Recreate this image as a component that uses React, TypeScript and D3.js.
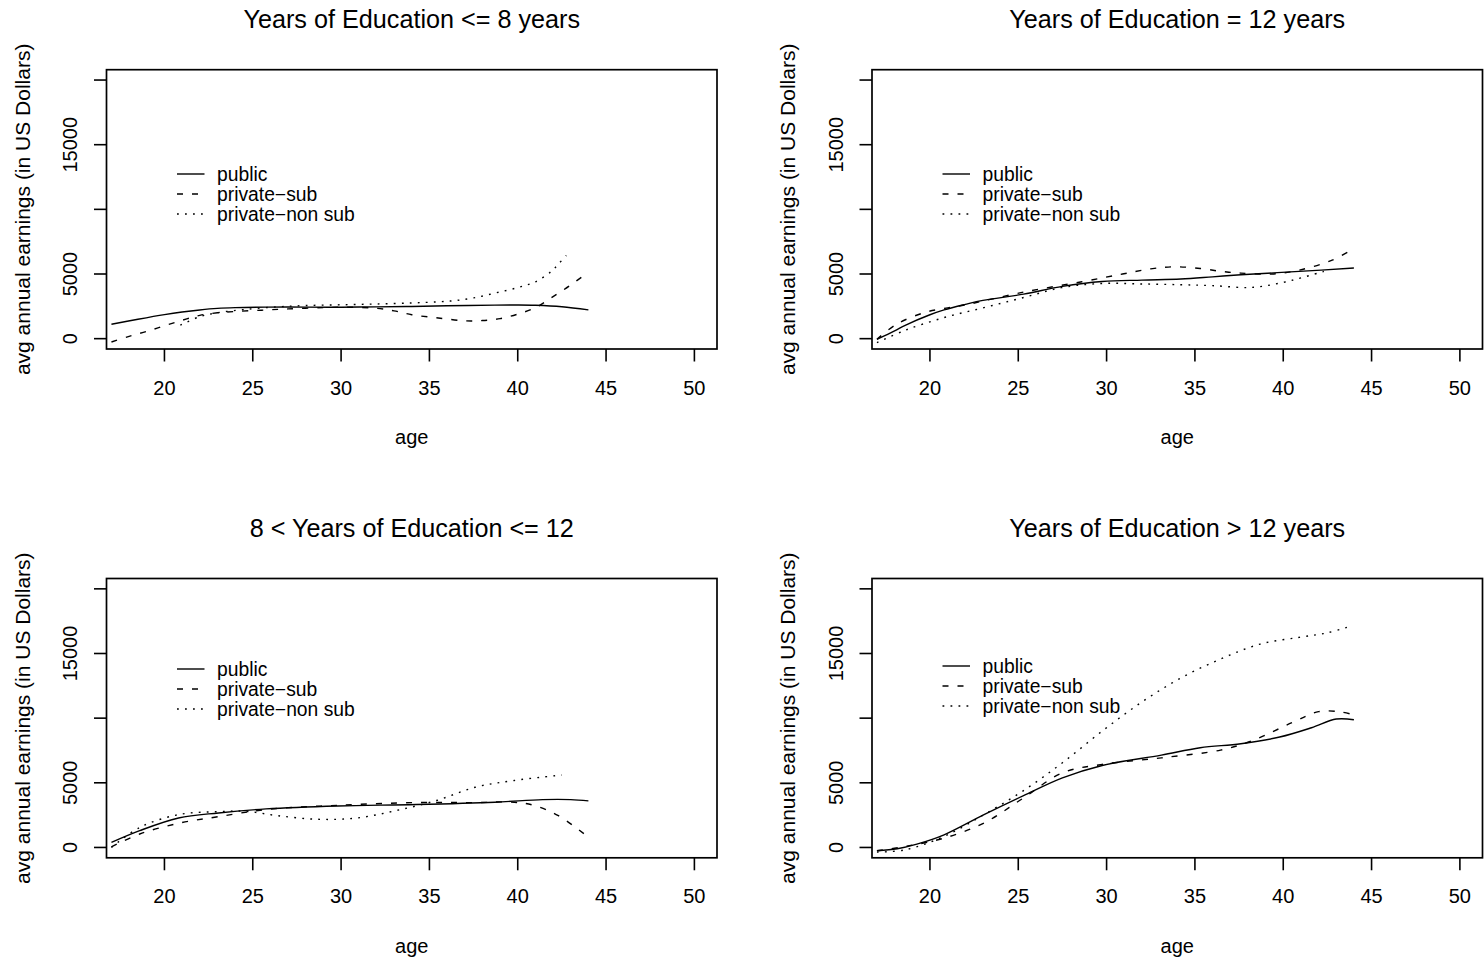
import React from "react";
import * as d3 from "d3";

type Pt = [number, number];

const panelTitles = [
  "Years of Education <= 8 years",
  "Years of Education = 12 years",
  "8 < Years of Education <= 12",
  "Years of Education > 12 years",
];
const seriesNames = ["public", "private\u2212sub", "private\u2212non sub"];
const xTicks = [20, 25, 30, 35, 40, 45, 50];
const yTicks = [0, 5000, 10000, 15000, 20000];
const yTickLabels = ["0", "5000", "", "15000", ""];
const xDomain: [number, number] = [16.72, 51.28];
const yDomain: [number, number] = [-800, 20800];

// Panel 1: <= 8 years
const p1Public: Pt[] = [[17,1110],[18.5,1500],[20,1860],[21,2060],[22,2220],[23,2340],[24,2400],[25.75,2440],[28,2440],[30,2430],[32,2460],[34,2490],[36,2540],[38.7,2590],[40,2600],[41,2580],[42.5,2470],[44,2230]];
const p1Sub: Pt[] = [[17,-260],[18,180],[19,560],[20,1000],[21,1420],[22,1800],[23,2000],[24,2100],[25.5,2200],[27,2300],[29,2400],[30.5,2430],[32,2350],[33,2150],[34,1850],[35.5,1600],[37,1380],[38,1400],[39,1550],[40,1900],[41,2400],[42,3250],[43,4150],[43.9,5050]];
const p1NonSub: Pt[] = [[20.9,1040],[22,1700],[23,2000],[24.5,2250],[26.4,2460],[28,2560],[30,2620],[32,2680],[34,2760],[35.5,2850],[36.5,2950],[37.5,3150],[38.7,3520],[40,3950],[41,4400],[41.9,5200],[42.3,5770],[42.75,6430]];

// Panel 2: = 12 years
const p2Public: Pt[] = [[17,-50],[18,600],[18.6,1035],[20,1850],[20.8,2226],[22,2650],[23,2960],[25.3,3440],[27.5,4040],[29.75,4420],[32,4530],[34.2,4610],[36,4780],[37.6,4940],[40.9,5200],[44,5460]];
const p2Sub: Pt[] = [[17,-50],[18.1,1110],[19.7,2020],[21,2380],[22,2610],[25.3,3600],[28.6,4400],[30.9,5000],[32.5,5400],[33.8,5560],[35.3,5430],[36.5,5200],[37.6,5070],[39.35,5000],[40.9,5300],[42.7,6030],[43.8,6800]];
const p2NonSub: Pt[] = [[17,-310],[18.6,650],[20.8,1630],[23.06,2400],[25.3,3180],[27.5,3960],[29.75,4270],[32,4230],[34.2,4170],[36,4100],[38.2,3960],[40,4350],[41,4700],[42.3,5200]];

// Panel 3: 8 < years <= 12
const p3Public: Pt[] = [[17,390],[18.6,1300],[20.8,2280],[23.06,2670],[25.75,2980],[29.8,3210],[34.25,3320],[38.7,3500],[41.4,3700],[43,3700],[44,3600]];
const p3Sub: Pt[] = [[17,50],[18.6,1040],[20.8,1870],[23.06,2380],[25.75,2930],[29.8,3260],[34.25,3470],[37.6,3470],[39.8,3500],[40.96,3240],[42.3,2460],[43.9,900]];
const p3NonSub: Pt[] = [[17,0],[18.6,1550],[20.8,2540],[23.06,2770],[24.6,2800],[26.4,2460],[28.66,2180],[30.9,2280],[33.1,2850],[35.4,3630],[37.6,4660],[39.8,5180],[42.5,5600]];

// Panel 4: > 12 years
const p4Public: Pt[] = [[17,-260],[18.15,-100],[19.26,260],[20.8,980],[23.06,2540],[25.3,4010],[27.5,5380],[29.75,6340],[33.1,7140],[35.3,7710],[37.6,8020],[39.8,8540],[41.6,9260],[43,9930],[44,9880]];
const p4Sub: Pt[] = [[17,-260],[18.6,80],[20.8,720],[23.06,1890],[25.3,3830],[27.5,5770],[29.75,6420],[33.1,6930],[36.45,7530],[38.2,8230],[40.5,9650],[42,10500],[43.15,10500],[44,10250]];
const p4NonSub: Pt[] = [[17,-360],[18.6,-180],[20.8,850],[23.06,2540],[25.3,4400],[27.5,6550],[29.75,9000],[32,11250],[34.2,13100],[36.45,14570],[38.7,15730],[40.9,16250],[42.5,16600],[43.9,17150]];

const panelData: Pt[][][] = [
  [p1Public, p1Sub, p1NonSub],
  [p2Public, p2Sub, p2NonSub],
  [p3Public, p3Sub, p3NonSub],
  [p4Public, p4Sub, p4NonSub],
];

const W = 1484;
const H = 959;
const FONT = "'Liberation Sans', Arial, Helvetica, sans-serif";
const dashes = [undefined, "6,9", "1.8,6.2"];

const boxes = [
  { L: 106.5, T: 69.7, legendY: 104.3 },
  { L: 872, T: 69.7, legendY: 104.3 },
  { L: 106.5, T: 578.5, legendY: 90.5 },
  { L: 872, T: 578.5, legendY: 87.5 },
];
const BW = 610.5;
const BH = 279.3;

function Panel({ idx }: { idx: number }) {
  const { L, T, legendY } = boxes[idx];
  const R = L + BW;
  const B = T + BH;
  const x = d3.scaleLinear().domain(xDomain).range([L, R]);
  const y = d3.scaleLinear().domain(yDomain).range([B, T]);
  const line = d3
    .line<Pt>()
    .x((d) => x(d[0]))
    .y((d) => y(d[1]))
    .curve(d3.curveCatmullRom.alpha(0.5));
  const cx = (L + R) / 2;
  const cy = (T + B) / 2;
  return (
    <g>
      <text x={cx} y={T - 50.5} textAnchor="middle" dominantBaseline="central" fontSize={25.2} fontFamily={FONT}>
        {panelTitles[idx]}
      </text>
      <rect x={L} y={T} width={BW} height={BH} fill="none" stroke="#000" strokeWidth={1.7} />
      {xTicks.map((t) => (
        <g key={"x" + t}>
          <line x1={x(t)} x2={x(t)} y1={B} y2={B + 12.5} stroke="#000" strokeWidth={1.6} />
          <text x={x(t)} y={B + 38.5} textAnchor="middle" dominantBaseline="central" fontSize={20} fontFamily={FONT}>
            {t}
          </text>
        </g>
      ))}
      {yTicks.map((t, i) => (
        <g key={"y" + t}>
          <line x1={L - 12.5} x2={L} y1={y(t)} y2={y(t)} stroke="#000" strokeWidth={1.6} />
          {yTickLabels[i] && (
            <text
              transform={`translate(${L - 36.5},${y(t)}) rotate(-90)`}
              textAnchor="middle"
              dominantBaseline="central"
              fontSize={20}
              fontFamily={FONT}
            >
              {yTickLabels[i]}
            </text>
          )}
        </g>
      ))}
      <text x={cx} y={B + 88} textAnchor="middle" dominantBaseline="central" fontSize={20} fontFamily={FONT}>
        age
      </text>
      <text
        transform={`translate(${L - 84.5},${cy}) rotate(-90)`}
        textAnchor="middle"
        dominantBaseline="central"
        fontSize={21}
        fontFamily={FONT}
      >
        avg annual earnings (in US Dollars)
      </text>
      {panelData[idx].map((s, i) => (
        <path key={"s" + i} d={line(s) || ""} fill="none" stroke="#000" strokeWidth={1.4} strokeDasharray={dashes[i]} />
      ))}
      {seriesNames.map((n, i) => {
        const ly = T + legendY + i * 20;
        return (
          <g key={"lg" + i}>
            <line x1={L + 70.5} x2={L + 98} y1={ly} y2={ly} stroke="#000" strokeWidth={1.4} strokeDasharray={dashes[i]} />
            <text x={L + 110.5} y={ly} dominantBaseline="central" fontSize={19.3} fontFamily={FONT}>
              {n}
            </text>
          </g>
        );
      })}
    </g>
  );
}

export default function App() {
  return (
    <svg
      width={W}
      height={H}
      viewBox={`0 0 ${W} ${H}`}
      style={{ position: "absolute", left: 0, top: 0, background: "#fff" }}
    >
      <rect x={0} y={0} width={W} height={H} fill="#fff" />
      {[0, 1, 2, 3].map((i) => (
        <Panel key={i} idx={i} />
      ))}
    </svg>
  );
}
